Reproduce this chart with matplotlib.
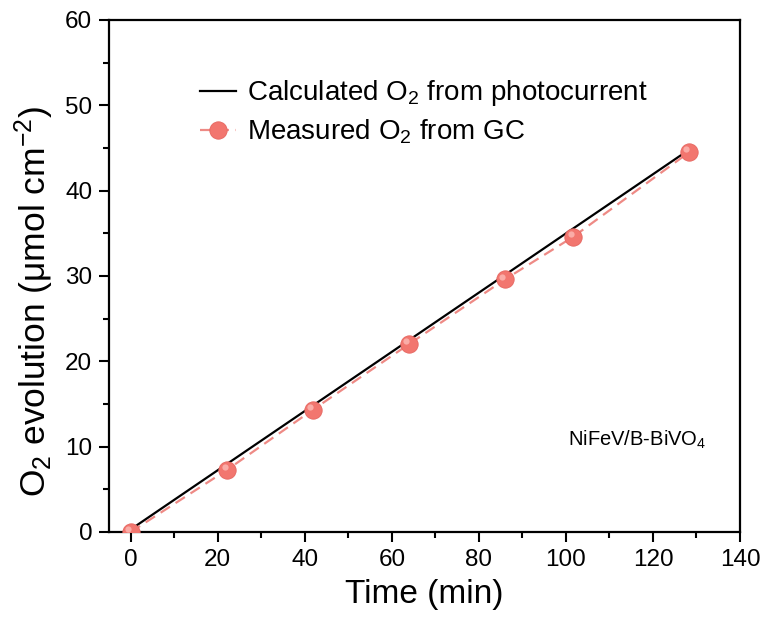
import matplotlib
matplotlib.use('Agg')
import matplotlib.pyplot as plt
import matplotlib.transforms as mtransforms
from matplotlib.ticker import MultipleLocator

plt.rcParams['font.family'] = ['Liberation Sans', 'DejaVu Sans']
plt.rcParams['mathtext.fontset'] = 'custom'
plt.rcParams['mathtext.rm'] = 'Liberation Sans'
plt.rcParams['mathtext.it'] = 'Liberation Sans'

# calculated O2 from photocurrent (line)
calc_time = [0, 128.3]
calc_o2 = [0.3, 44.8]

# measured O2 from GC
meas_time = [0, 22.2, 41.8, 63.9, 86.0, 101.7, 128.3]
meas_o2 = [0.0, 7.3, 14.3, 22.0, 29.6, 34.6, 44.5]

fig = plt.figure(figsize=(7.69, 6.30), dpi=100)
ax = fig.add_axes([0.1417, 0.1556, 0.8206, 0.8127])

ax.plot(calc_time, calc_o2, color='black', linewidth=1.6,
        label='Calculated O$_2$ from photocurrent', zorder=3)
ax.plot(meas_time, meas_o2, color='#EE8A85', linewidth=1.6,
        linestyle=(0, (5, 3)), marker='o', markersize=12.5,
        markerfacecolor='#F2766F', markeredgecolor='#E66660',
        markeredgewidth=0.6, label='Measured O$_2$ from GC', zorder=4)

# soft highlight on the markers (sphere look)
shift = mtransforms.ScaledTranslation(-2 / 72, 2 / 72, fig.dpi_scale_trans)
ax.plot(meas_time, meas_o2, linestyle='none', marker='o', markersize=4.5,
        markerfacecolor='#FBB3AE', markeredgewidth=0, alpha=0.9,
        transform=ax.transData + shift, zorder=5)

ax.set_xlim(-5, 140)
ax.set_ylim(0, 60)
ax.xaxis.set_major_locator(MultipleLocator(20))
ax.xaxis.set_minor_locator(MultipleLocator(10))
ax.yaxis.set_major_locator(MultipleLocator(10))
ax.yaxis.set_minor_locator(MultipleLocator(5))

ax.tick_params(which='both', direction='out', top=False, right=False,
               labelsize=17.5, width=1.5)
ax.tick_params(which='major', length=7, pad=5)
ax.tick_params(which='minor', length=4)
for sp in ax.spines.values():
    sp.set_linewidth(1.6)

ax.set_xlabel('Time (min)', fontsize=24, labelpad=6)
ax.set_ylabel('O$_2$ evolution (μmol cm$^{-2}$)', fontsize=25.5)
ax.yaxis.set_label_coords(-0.084, 0.45)

ax.legend(loc='upper left', bbox_to_anchor=(0.105, 0.935), frameon=False,
          fontsize=20, handlelength=1.3, handletextpad=0.4, labelspacing=0.33)

ax.text(0.727, 0.18, 'NiFeV/B-BiVO$_4$', transform=ax.transAxes,
        fontsize=14.5, ha='left', va='center')

fig.savefig('out.png', dpi=100)
